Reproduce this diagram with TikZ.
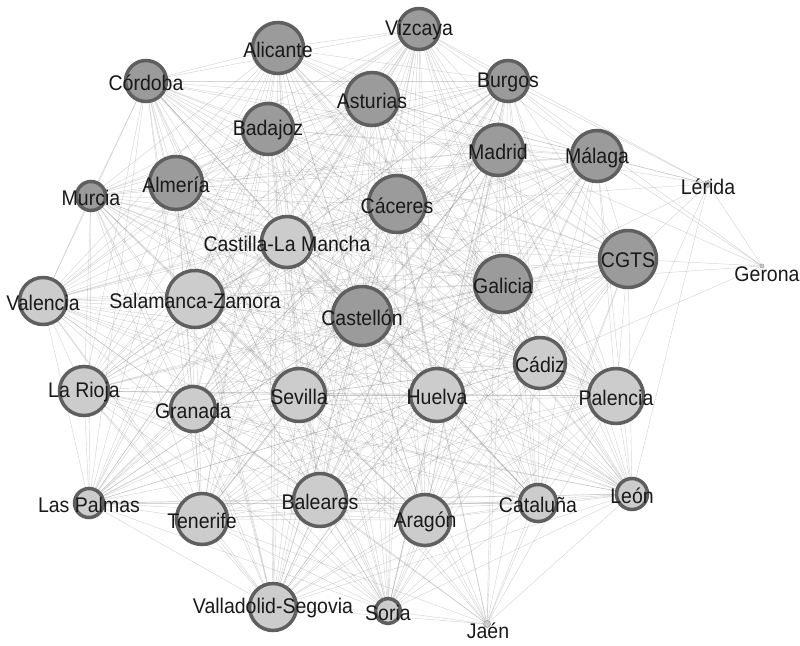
\documentclass[tikz,border=0pt]{standalone}
\usepackage{fontspec}
\setmainfont{Liberation Sans}[FakeStretch=0.92]
\usetikzlibrary{backgrounds}
\definecolor{darkc}{RGB}{155,155,155}
\definecolor{lightc}{RGB}{204,204,204}
\definecolor{ringc}{RGB}{95,95,95}
\definecolor{edgec}{RGB}{135,135,135}
\tikzset{
  dk/.style={circle, draw=ringc, line width=3.5pt, fill=darkc, inner sep=0pt, outer sep=0pt, minimum size=#1},
  lt/.style={circle, draw=ringc, line width=3.5pt, fill=lightc, inner sep=0pt, outer sep=0pt, minimum size=#1},
  tiny/.style={circle, draw=ringc!60, line width=0.6pt, fill=lightc, inner sep=0pt, minimum size=#1},
  edge/.style={draw=edgec, line width=0.45pt, draw opacity=0.35},
  every label/.style={inner sep=0pt, text=black!90, yshift=-1.5pt},
  lbl/.style={inner sep=0pt, text=black!90}
}
\begin{document}
\begin{tikzpicture}[x=1pt, y=-1pt, font=\fontsize{21.2}{25}\selectfont]
\useasboundingbox (0,0) rectangle (800,645);
% dark nodes
\node[dk=51, label=center:Alicante] (alicante) at (278,48) {};
\node[dk=41, label=center:Córdoba] (cordoba) at (146,81) {};
\node[dk=53, label=center:Asturias] (asturias) at (372,99) {};
\node[dk=51, label=center:Badajoz] (badajoz) at (268,129) {};
\node[dk=53, label=center:Almería] (almeria) at (176,183) {};
\node[dk=29, label=center:Murcia] (murcia) at (91,196) {};
\node[dk=57, label=center:Cáceres] (caceres) at (397,204) {};
\node[dk=59, label=center:Castellón] (castellon) at (362,316) {};
\node[dk=41, label=center:Vizcaya] (vizcaya) at (419,29) {};
\node[dk=41, label=center:Burgos] (burgos) at (508,81) {};
\node[dk=51, label=center:Madrid] (madrid) at (498,150) {};
\node[dk=51, label=center:Málaga] (malaga) at (597,156) {};
\node[dk=57, label=center:CGTS] (cgts) at (628,259) {};
\node[dk=57, label=center:Galicia] (galicia) at (503,284) {};
% light nodes
\node[lt=51, label=center:Castilla-La Mancha] (castilla) at (287,242) {};
\node[lt=47, label=center:Valencia] (valencia) at (43,301) {};
\node[lt=57, label=center:Salamanca-Zamora] (salamanca) at (195,299) {};
\node[lt=49, label=center:La Rioja] (larioja) at (84,391) {};
\node[lt=45, label=center:Granada] (granada) at (193,409) {};
\node[lt=53, label=center:Sevilla] (sevilla) at (299,395) {};
\node[lt=29, label=center:Las Palmas] (laspalmas) at (89,503) {};
\node[lt=51, label=center:Tenerife] (tenerife) at (202,519) {};
\node[lt=53, label=center:Baleares] (baleares) at (320,500) {};
\node[lt=47, label=center:Valladolid-Segovia] (valladolid) at (273,607) {};
\node[lt=25, label=center:Soria] (soria) at (388,611) {};
\node[lt=51, label=center:Cádiz] (cadiz) at (540,363) {};
\node[lt=53, label=center:Huelva] (huelva) at (437,395) {};
\node[lt=55, label=center:Palencia] (palencia) at (616,396) {};
\node[lt=31, label=center:León] (leon) at (632,494) {};
\node[lt=37, label=center:Cataluña] (cataluna) at (538,503) {};
\node[lt=51, label=center:Aragón] (aragon) at (425,520) {};
% tiny nodes
\node[tiny=7] (lerida) at (708,184) {};
\node[lbl] (lerida-l) at (708,187) {Lérida};
\node[tiny=4] (gerona) at (762,266) {};
\node[lbl] (gerona-l) at (767,274) {Gerona};
\node[tiny=7] (jaen) at (487,624) {};
\node[lbl] (jaen-l) at (488,631) {Jaén};
\begin{pgfonlayer}{background}
\def\mainlist{alicante,cordoba,asturias,badajoz,almeria,murcia,caceres,castellon,vizcaya,burgos,madrid,malaga,cgts,galicia,castilla,valencia,salamanca,larioja,granada,sevilla,laspalmas,tenerife,baleares,valladolid,soria,cadiz,huelva,palencia,leon,cataluna,aragon}
\foreach \a [count=\i] in \mainlist {
  \foreach \b [count=\j] in \mainlist {
    \ifnum\j>\i \draw[edge] (\a) -- (\b);\fi
  }
}
\foreach \b in {vizcaya,burgos,madrid,malaga,caceres,cgts,gerona,palencia,leon,galicia,asturias}
  \draw[edge] (lerida) -- (\b);
\foreach \b in {burgos,malaga,cgts,galicia,madrid,cadiz}
  \draw[edge] (gerona) -- (\b);
\foreach \b in {aragon,huelva,cataluna,leon,palencia,cadiz,galicia,cgts,castellon,sevilla,baleares,soria,valladolid,madrid,caceres,tenerife,granada,salamanca,castilla}
  \draw[edge] (jaen) -- (\b);
\end{pgfonlayer}
\end{tikzpicture}
\end{document}
